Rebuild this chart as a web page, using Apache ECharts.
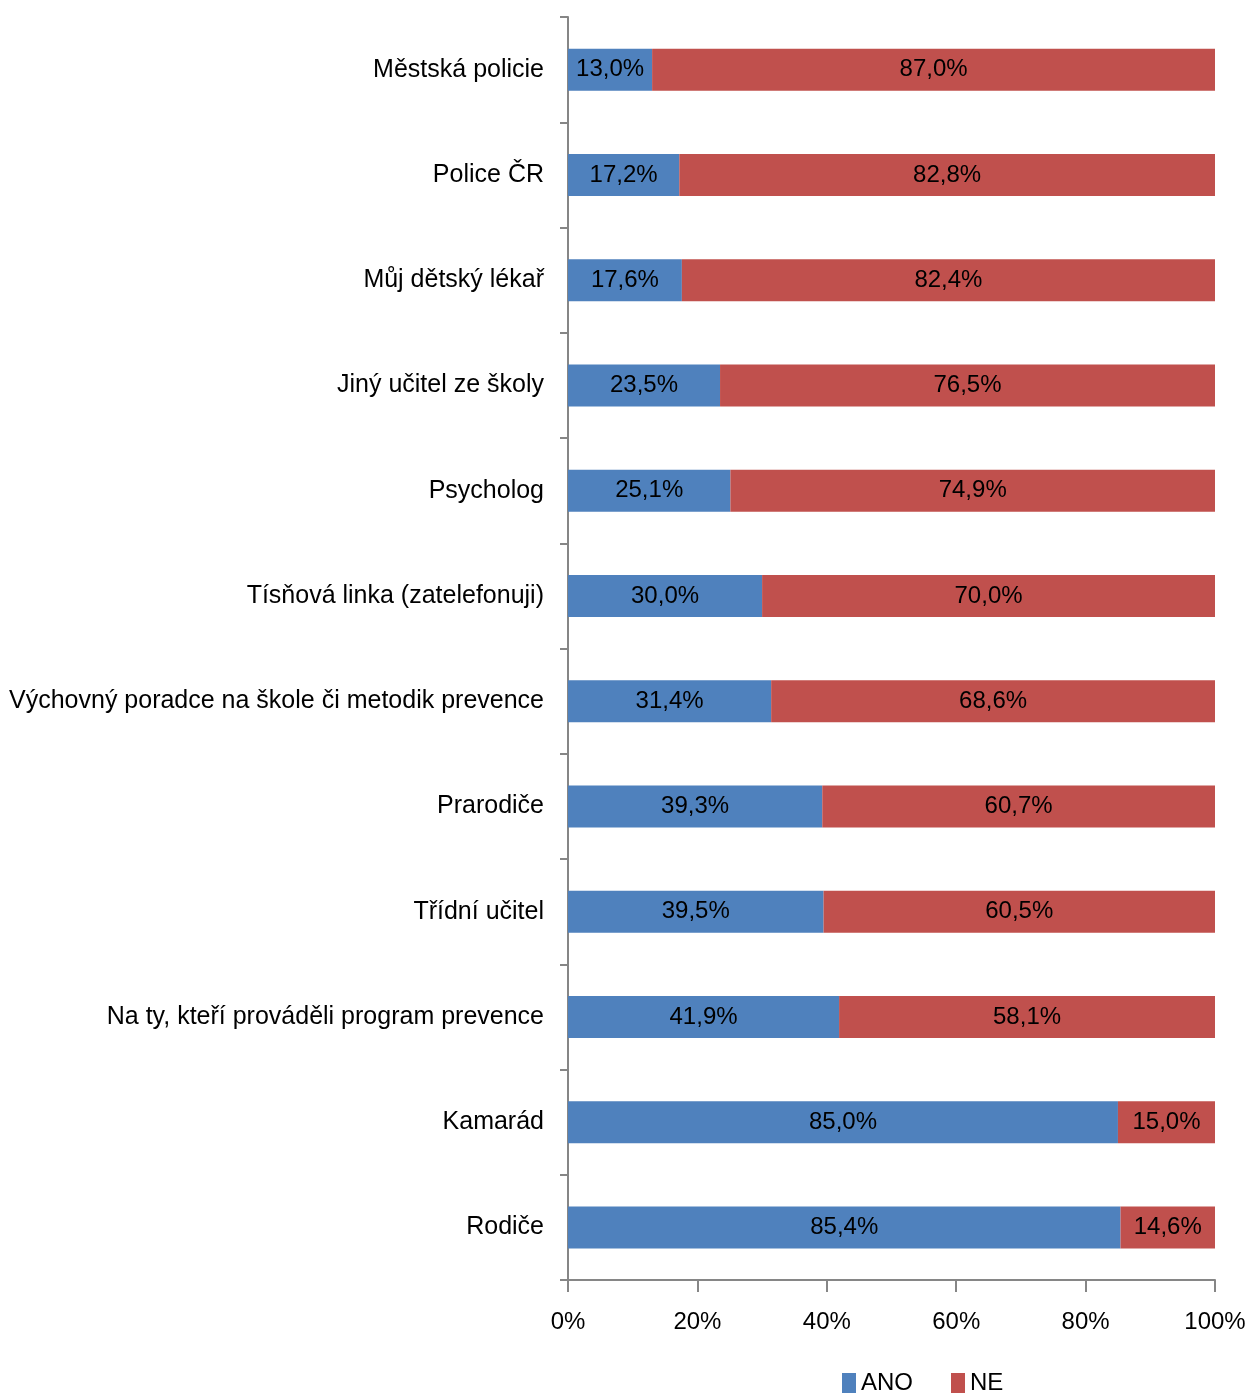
<!DOCTYPE html>
<html>
<head>
<meta charset="utf-8">
<script src="https://cdn.jsdelivr.net/npm/echarts@6/dist/echarts.min.js"></script>
<style>
  html, body { margin: 0; padding: 0; background: #fff; }
  #chart { width: 1249px; height: 1394px; }
</style>
</head>
<body>
<div id="chart"></div>
<script>
// Categories listed from top to bottom
const categories = [
  'Městská policie',
  'Police ČR',
  'Můj dětský lékař',
  'Jiný učitel ze školy',
  'Psycholog',
  'Tísňová linka (zatelefonuji)',
  'Výchovný poradce na škole či metodik prevence',
  'Prarodiče',
  'Třídní učitel',
  'Na ty, kteří prováděli program prevence',
  'Kamarád',
  'Rodiče'
];
const ano = [13.0, 17.2, 17.6, 23.5, 25.1, 30.0, 31.4, 39.3, 39.5, 41.9, 85.0, 85.4];
const ne  = [87.0, 82.8, 82.4, 76.5, 74.9, 70.0, 68.6, 60.7, 60.5, 58.1, 15.0, 14.6];
const xTicks = [0, 20, 40, 60, 80, 100];

const FONT = '"Liberation Sans", Arial, sans-serif';
const fmt = v => v.toFixed(1).replace('.', ',') + '%';

const chart = echarts.init(document.getElementById('chart'));
chart.setOption({
  animation: false,
  textStyle: { fontFamily: FONT },
  grid: { left: 568, right: 34, top: 17, bottom: 114, containLabel: false },
  legend: {
    top: 1366,
    left: 837,
    itemWidth: 14,
    itemHeight: 20,
    itemGap: 38,
    icon: 'rect',
    textStyle: { fontFamily: FONT, fontSize: 24, color: '#000', padding: [0, 0, 0, 0] },
    data: ['ANO', 'NE']
  },
  xAxis: {
    type: 'value',
    min: 0,
    max: 100,
    interval: 20,
    axisLine: { show: true, lineStyle: { color: '#868686', width: 2 } },
    axisTick: { show: true, length: 12, lineStyle: { color: '#868686', width: 2 } },
    splitLine: { show: false },
    axisLabel: {
      margin: 30,
      fontSize: 24,
      color: '#000',
      fontFamily: FONT,
      formatter: v => xTicks.includes(v) ? v + '%' : ''
    }
  },
  yAxis: {
    type: 'category',
    inverse: true,
    data: categories,
    axisLine: { show: true, lineStyle: { color: '#868686', width: 2 } },
    axisTick: { show: true, length: 8, lineStyle: { color: '#868686', width: 2 } },
    axisLabel: { margin: 24, fontSize: 25, color: '#000', fontFamily: FONT }
  },
  series: [
    {
      name: 'ANO',
      type: 'bar',
      stack: 'total',
      data: ano,
      barWidth: 42,
      itemStyle: { color: '#4f81bd' },
      label: {
        show: true, position: 'inside', fontSize: 24, color: '#000',
        fontFamily: FONT, formatter: p => fmt(p.value)
      }
    },
    {
      name: 'NE',
      type: 'bar',
      stack: 'total',
      data: ne,
      barWidth: 42,
      itemStyle: { color: '#c0504d' },
      label: {
        show: true, position: 'inside', fontSize: 24, color: '#000',
        fontFamily: FONT, formatter: p => fmt(p.value)
      }
    }
  ]
});
</script>
</body>
</html>
